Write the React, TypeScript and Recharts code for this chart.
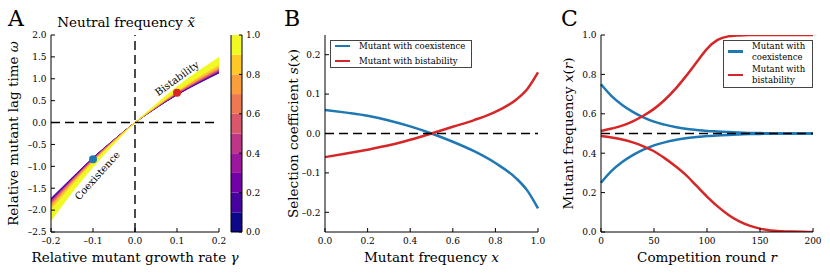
import React from 'react';
import {
  ComposedChart, LineChart, BarChart, Line, Area, Bar, XAxis, YAxis,
  ReferenceLine, ReferenceDot, Legend, Label,
} from 'recharts';

const SERIF = '"DejaVu Serif", serif';
const BLUE = '#1f78b4';
const RED = '#d62728';

// ---- Panel A: neutral-frequency contours over (gamma, omega) ----
const gammaVals = [-0.2, -0.15, -0.1, -0.05, 0, 0.05, 0.1, 0.15, 0.2];
const lagLevel00 = [-1.73, -1.26, -0.8, -0.39, 0, 0.33, 0.63, 0.89, 1.13];
const lagLevel01 = [-1.75, -1.27, -0.81, -0.39, 0, 0.33, 0.64, 0.9, 1.14];
const lagLevel02 = [-1.76, -1.28, -0.81, -0.4, 0, 0.34, 0.64, 0.91, 1.15];
const lagLevel03 = [-1.78, -1.29, -0.82, -0.4, 0, 0.34, 0.65, 0.92, 1.17];
const lagLevel04 = [-1.8, -1.31, -0.83, -0.4, 0, 0.34, 0.66, 0.93, 1.18];
const lagLevel05 = [-1.83, -1.32, -0.84, -0.41, 0, 0.35, 0.67, 0.94, 1.2];
const lagLevel06 = [-1.85, -1.34, -0.85, -0.41, 0, 0.35, 0.68, 0.96, 1.22];
const lagLevel07 = [-1.89, -1.36, -0.87, -0.42, 0, 0.36, 0.69, 0.97, 1.24];
const lagLevel08 = [-1.93, -1.39, -0.88, -0.43, 0, 0.36, 0.7, 1.0, 1.27];
const lagLevel09 = [-2.0, -1.44, -0.91, -0.44, 0, 0.38, 0.73, 1.04, 1.32];
const lagLevel10 = [-2.25, -1.6, -1.02, -0.49, 0, 0.42, 0.82, 1.17, 1.49];
const lagLevels = [lagLevel00, lagLevel01, lagLevel02, lagLevel03, lagLevel04, lagLevel05,
  lagLevel06, lagLevel07, lagLevel08, lagLevel09, lagLevel10];

const plasma10 = ['#0d0887', '#47039f', '#7301a8', '#9c179e', '#bd3786',
  '#d8576b', '#ed7953', '#fa9e3b', '#fdc926', '#f0f921'];
const colorbarTicks = [0, 0.2, 0.4, 0.6, 0.8, 1.0];

const gammaTicks = [-0.2, -0.1, 0, 0.1, 0.2];
const omegaTicks = [-2.5, -2, -1.5, -1, -0.5, 0, 0.5, 1, 1.5, 2];

const coexPoint = { g: -0.1, w: -0.84 };
const bistPoint = { g: 0.1, w: 0.68 };
const regionLabels = [
  { text: 'Bistability', g: 0.1, w: 1.01, angle: -36 },
  { text: 'Coexistence', g: -0.09, w: -1.21, angle: -48 },
];

// ---- Panel B: selection coefficient vs frequency ----
const freqVals = [0, 0.1, 0.2, 0.3, 0.4, 0.5, 0.6, 0.7, 0.8, 0.9, 0.95, 1.0];
const selCoex = [0.06, 0.053, 0.045, 0.033, 0.018, 0, -0.021, -0.045, -0.075, -0.115, -0.145, -0.19];
const selBist = [-0.06, -0.051, -0.041, -0.03, -0.016, 0, 0.017, 0.034, 0.055, 0.087, 0.113, 0.155];
const selTicks = [-0.2, -0.1, 0, 0.1, 0.2];
const freqTicks = [0, 0.2, 0.4, 0.6, 0.8, 1.0];

// ---- Panel C: frequency trajectories over competition rounds ----
const rounds = [0, 10, 20, 30, 40, 50, 60, 70, 80, 90, 100, 110, 120, 130, 140, 150, 160, 170, 180, 190, 200];
const coexHigh = [0.75, 0.69, 0.645, 0.61, 0.582, 0.56, 0.545, 0.533, 0.524, 0.518, 0.513, 0.51, 0.507, 0.505, 0.503, 0.502, 0.501, 0.5, 0.5, 0.5, 0.5];
const coexLow = [0.25, 0.31, 0.355, 0.39, 0.418, 0.44, 0.455, 0.467, 0.476, 0.482, 0.487, 0.49, 0.493, 0.495, 0.497, 0.498, 0.499, 0.5, 0.5, 0.5, 0.5];
const bistHigh = [0.513, 0.525, 0.54, 0.562, 0.59, 0.625, 0.67, 0.725, 0.79, 0.86, 0.93, 0.975, 0.993, 0.998, 1, 1, 1, 1, 1, 1, 1];
const bistLow = [0.487, 0.48, 0.47, 0.455, 0.435, 0.41, 0.375, 0.335, 0.29, 0.235, 0.18, 0.13, 0.088, 0.055, 0.032, 0.017, 0.008, 0.004, 0.002, 0.001, 0];
const roundTicks = [0, 50, 100, 150, 200];
const xrTicks = [0, 0.2, 0.4, 0.6, 0.8, 1.0];

const legendB = [
  { label: 'Mutant with coexistence', color: BLUE },
  { label: 'Mutant with bistability', color: RED },
];
const legendC = [
  { label: 'Mutant with\ncoexistence', color: BLUE },
  { label: 'Mutant with\nbistability', color: RED },
];

const rowsA = gammaVals.map((g, i) => {
  const row: any = { g, w: lagLevel00[i] };
  for (let k = 0; k < 10; k++) row['b' + k] = [lagLevels[k][i], lagLevels[k + 1][i]];
  return row;
});
const rowsB = freqVals.map((x, i) => ({ x, coex: selCoex[i], bist: selBist[i] }));
const rowsC = rounds.map((r, i) => ({ r, ch: coexHigh[i], cl: coexLow[i], bh: bistHigh[i], bl: bistLow[i] }));
const rowsCb = [{ c: 'cb', ...Object.fromEntries(plasma10.map((_, k) => ['s' + k, 0.1])) }];

const fmt1 = (v: number) => (v < 0 ? '\u2013' : '') + Math.abs(v).toFixed(1);
const fmt0 = (v: number) => String(v);

const TICK_FONT = 9;
const TICK_LEN = 4;

const makeTick = (side: 'bottom' | 'top' | 'left' | 'right', fmt?: (v: number) => string, len = TICK_LEN) =>
  (props: any) => {
    const { x, y, payload } = props;
    let line = null;
    let label = null;
    if (side === 'bottom') {
      line = <line x1={x} y1={y} x2={x} y2={y - len} stroke="#000" />;
      if (fmt) label = <text x={x} y={y + 11.5} textAnchor="middle">{fmt(payload.value)}</text>;
    } else if (side === 'top') {
      line = <line x1={x} y1={y} x2={x} y2={y + len} stroke="#000" />;
    } else if (side === 'left') {
      line = <line x1={x} y1={y} x2={x + len} y2={y} stroke="#000" />;
      if (fmt) label = <text x={x - 4.5} y={y + 3.3} textAnchor="end">{fmt(payload.value)}</text>;
    } else {
      line = <line x1={x} y1={y} x2={x - len} y2={y} stroke="#000" />;
      if (fmt) label = <text x={x + 4} y={y + 3.3} textAnchor="start">{fmt(payload.value)}</text>;
    }
    return (
      <g fontFamily={SERIF} fontSize={TICK_FONT} fill="#000">
        {line}
        {label}
      </g>
    );
  };

type Part = [string, boolean];
const renderParts = (parts: Part[]) =>
  parts.map(([t, it], i) => (
    <tspan key={i} fontStyle={it ? 'italic' : 'normal'}>{t}</tspan>
  ));

const xTitle = (parts: Part[]) => (props: any) => {
  const { x, y, width } = props.viewBox;
  return (
    <text x={x + width / 2} y={y + 30} textAnchor="middle" fontFamily={SERIF} fontSize={13.5} fill="#000">
      {renderParts(parts)}
    </text>
  );
};

const yTitle = (parts: Part[]) => (props: any) => {
  const { x, y, height } = props.viewBox;
  const tx = x + 18;
  const ty = y + height / 2;
  return (
    <text x={tx} y={ty} transform={`rotate(-90, ${tx}, ${ty})`} textAnchor="middle"
      fontFamily={SERIF} fontSize={13.5} fill="#000">
      {renderParts(parts)}
    </text>
  );
};

const LegendBox = ({ items, rowHeight, gap, width }: any) => (
  <div style={{
    border: '1px solid #444', background: '#fff', fontFamily: SERIF, fontSize: 8.5,
    width, boxSizing: 'border-box', padding: '0 4px 1px 4px', color: '#000',
  }}>
    {items.map((it: any, i: number) => (
      <div key={i} style={{ display: 'flex', alignItems: 'center', height: rowHeight, marginBottom: i < items.length - 1 ? gap : 0 }}>
        <span style={{ display: 'inline-block', width: 15, height: 2.5, background: it.color, marginRight: 9, flex: 'none' }} />
        <span style={{ whiteSpace: 'pre', lineHeight: '11px' }}>{it.label}</span>
      </div>
    ))}
  </div>
);

const axisLineStyle = { stroke: '#000', strokeWidth: 1 };

// invisible series that binds the mirrored top/right axes so their ticks get drawn
const ghost = (dataKey: string) => (
  <Line xAxisId="top" yAxisId="r" dataKey={dataKey} stroke="none" dot={false} activeDot={false}
    isAnimationActive={false} legendType="none" />
);

export default function App() {
  return (
    <div style={{ position: 'absolute', left: 0, top: 0, width: 830, height: 278, background: '#fff' }}>
      {/* Panel A */}
      <div style={{ position: 'absolute', left: 0, top: 0 }}>
        <ComposedChart width={280} height={278} data={rowsA} margin={{ top: 35, right: 61, bottom: 0, left: 0 }}>
          <XAxis dataKey="g" type="number" domain={[-0.2, 0.2]} ticks={gammaTicks} interval={0}
            height={46} tickSize={0} tickMargin={0} axisLine={axisLineStyle} tickLine={false}
            tick={makeTick('bottom', fmt1)} allowDataOverflow>
            <Label content={xTitle([['Relative mutant growth rate ', false], ['\u03b3', true]])} />
          </XAxis>
          <XAxis xAxisId="top" orientation="top" dataKey="g" type="number" domain={[-0.2, 0.2]} ticks={gammaTicks}
            interval={0} height={0} tickSize={0} tickMargin={0} axisLine={axisLineStyle} tickLine={false}
            tick={makeTick('top')} allowDataOverflow />
          <YAxis type="number" domain={[-2.5, 2]} ticks={omegaTicks} interval={0} width={51}
            tickSize={0} tickMargin={0} axisLine={axisLineStyle} tickLine={false}
            tick={makeTick('left', fmt1)} allowDataOverflow>
            <Label content={yTitle([['Relative mutant lag time ', false], ['\u03c9', true]])} />
          </YAxis>
          <YAxis yAxisId="r" orientation="right" type="number" domain={[-2.5, 2]} ticks={omegaTicks} interval={0}
            width={0} tickSize={0} tickMargin={0} axisLine={axisLineStyle} tickLine={false}
            tick={makeTick('right')} allowDataOverflow />
          {plasma10.map((c, k) => (
            <Area key={k} dataKey={'b' + k} type="monotone" fill={c} fillOpacity={1} stroke={c} strokeWidth={0.6}
              dot={false} activeDot={false} isAnimationActive={false} />
          ))}
          {ghost('w')}
          <ReferenceLine y={0} stroke="#000" strokeWidth={1.4} strokeDasharray="9 5" />
          <ReferenceLine x={0} stroke="#000" strokeWidth={1.4} strokeDasharray="9 5" />
          <ReferenceDot x={coexPoint.g} y={coexPoint.w} r={4} fill={BLUE} stroke="none" />
          <ReferenceDot x={bistPoint.g} y={bistPoint.w} r={4} fill={RED} stroke="none" />
          {regionLabels.map((l) => (
            <ReferenceDot key={l.text} x={l.g} y={l.w} r={0}
              shape={(p: any) => (
                <text x={p.cx} y={p.cy} transform={`rotate(${l.angle}, ${p.cx}, ${p.cy})`} textAnchor="middle"
                  dominantBaseline="central" fontFamily={SERIF} fontSize={10} fill="#000">{l.text}</text>
              )} />
          ))}
        </ComposedChart>
      </div>

      {/* Colorbar */}
      <div style={{ position: 'absolute', left: 225, top: 0 }}>
        <BarChart width={55} height={278} data={rowsCb} margin={{ top: 35, right: 5, bottom: 0, left: 0 }}
          barCategoryGap={0} barGap={0}>
          <XAxis dataKey="c" height={46} tick={false} tickLine={false} axisLine={axisLineStyle} />
          <XAxis xAxisId="top" orientation="top" dataKey="c" height={0} tick={false} tickLine={false} axisLine={axisLineStyle} />
          <YAxis yAxisId="l" type="number" domain={[0, 1]} width={6} tick={false} tickLine={false} axisLine={axisLineStyle} />
          <YAxis orientation="right" type="number" domain={[0, 1]} ticks={colorbarTicks} interval={0}
            width={33} tickSize={0} tickMargin={0} axisLine={axisLineStyle} tickLine={false}
            tick={makeTick('right', fmt1, 3)} />
          {plasma10.map((c, k) => (
            <Bar key={k} dataKey={'s' + k} stackId="cb" fill={c} isAnimationActive={false} />
          ))}
          <Bar xAxisId="top" yAxisId="l" dataKey="s0" fill="none" isAnimationActive={false} legendType="none" />
        </BarChart>
      </div>

      {/* Panel B */}
      <div style={{ position: 'absolute', left: 280, top: 0 }}>
        <LineChart width={275} height={278} data={rowsB} margin={{ top: 35, right: 17, bottom: 0, left: 0 }}>
          <XAxis dataKey="x" type="number" domain={[0, 1]} ticks={freqTicks} interval={0}
            height={46} tickSize={0} tickMargin={0} axisLine={axisLineStyle} tickLine={false}
            tick={makeTick('bottom', fmt1)}>
            <Label content={xTitle([['Mutant frequency ', false], ['x', true]])} />
          </XAxis>
          <XAxis xAxisId="top" orientation="top" dataKey="x" type="number" domain={[0, 1]} ticks={freqTicks}
            interval={0} height={0} tickSize={0} tickMargin={0} axisLine={axisLineStyle} tickLine={false}
            tick={makeTick('top')} />
          <YAxis type="number" domain={[-0.25, 0.25]} ticks={selTicks} interval={0} width={45}
            tickSize={0} tickMargin={0} axisLine={axisLineStyle} tickLine={false}
            tick={makeTick('left', fmt1)} allowDataOverflow>
            <Label content={yTitle([['Selection coefficient ', false], ['s', true], ['(', false], ['x', true], [')', false]])} />
          </YAxis>
          <YAxis yAxisId="r" orientation="right" type="number" domain={[-0.25, 0.25]} ticks={selTicks} interval={0}
            width={0} tickSize={0} tickMargin={0} axisLine={axisLineStyle} tickLine={false}
            tick={makeTick('right')} allowDataOverflow />
          <Line dataKey="coex" type="monotone" stroke={BLUE} strokeWidth={2.5} dot={false} activeDot={false} isAnimationActive={false} />
          <Line dataKey="bist" type="monotone" stroke={RED} strokeWidth={2.5} dot={false} activeDot={false} isAnimationActive={false} />
          {ghost('coex')}
          <ReferenceLine y={0} stroke="#000" strokeWidth={1.4} strokeDasharray="9 5" />
          <Legend layout="horizontal" verticalAlign="middle" align="center"
            wrapperStyle={{ left: 50, top: 40, width: 142 }}
            content={() => <LegendBox items={legendB} rowHeight={10} gap={5} width={142} />} />
        </LineChart>
      </div>

      {/* Panel C */}
      <div style={{ position: 'absolute', left: 555, top: 0 }}>
        <LineChart width={275} height={278} data={rowsC} margin={{ top: 35, right: 17, bottom: 0, left: 0 }}>
          <XAxis dataKey="r" type="number" domain={[0, 200]} ticks={roundTicks} interval={0}
            height={46} tickSize={0} tickMargin={0} axisLine={axisLineStyle} tickLine={false}
            tick={makeTick('bottom', fmt0)}>
            <Label content={xTitle([['Competition round ', false], ['r', true]])} />
          </XAxis>
          <XAxis xAxisId="top" orientation="top" dataKey="r" type="number" domain={[0, 200]} ticks={roundTicks}
            interval={0} height={0} tickSize={0} tickMargin={0} axisLine={axisLineStyle} tickLine={false}
            tick={makeTick('top')} />
          <YAxis type="number" domain={[0, 1]} ticks={xrTicks} interval={0} width={46}
            tickSize={0} tickMargin={0} axisLine={axisLineStyle} tickLine={false}
            tick={makeTick('left', fmt1)} allowDataOverflow>
            <Label content={yTitle([['Mutant frequency ', false], ['x', true], ['(', false], ['r', true], [')', false]])} />
          </YAxis>
          <YAxis yAxisId="r" orientation="right" type="number" domain={[0, 1]} ticks={xrTicks} interval={0}
            width={0} tickSize={0} tickMargin={0} axisLine={axisLineStyle} tickLine={false}
            tick={makeTick('right')} allowDataOverflow />
          <Line dataKey="ch" type="monotone" stroke={BLUE} strokeWidth={2.5} dot={false} activeDot={false} isAnimationActive={false} />
          <Line dataKey="cl" type="monotone" stroke={BLUE} strokeWidth={2.5} dot={false} activeDot={false} isAnimationActive={false} />
          <Line dataKey="bh" type="monotone" stroke={RED} strokeWidth={2.5} dot={false} activeDot={false} isAnimationActive={false} />
          <Line dataKey="bl" type="monotone" stroke={RED} strokeWidth={2.5} dot={false} activeDot={false} isAnimationActive={false} />
          {ghost('ch')}
          <ReferenceLine y={0.5} stroke="#000" strokeWidth={1.4} strokeDasharray="9 5" />
          <Legend layout="horizontal" verticalAlign="middle" align="center"
            wrapperStyle={{ left: 168, top: 39.5, width: 90 }}
            content={() => <LegendBox items={legendC} rowHeight={22} gap={1.5} width={90} />} />
        </LineChart>
      </div>

      {/* Panel letters and title */}
      <svg width={830} height={278} style={{ position: 'absolute', left: 0, top: 0, pointerEvents: 'none' }}
        fontFamily={SERIF} fill="#000">
        <text x={8} y={26} fontSize={22}>A</text>
        <text x={284} y={26} fontSize={22}>B</text>
        <text x={561} y={26} fontSize={22}>C</text>
        <text x={126} y={27} fontSize={13.5} textAnchor="middle">
          Neutral frequency <tspan fontStyle="italic">{'x\u0303'}</tspan>
        </text>
      </svg>
    </div>
  );
}
